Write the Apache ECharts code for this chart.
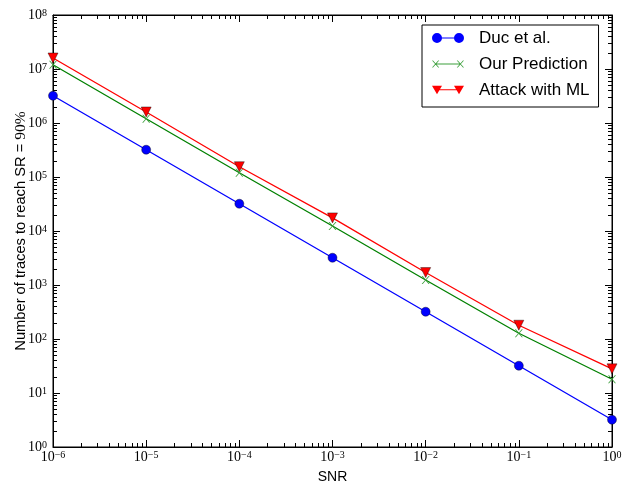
<!DOCTYPE html>
<html>
<head>
<meta charset="utf-8">
<script src="https://cdn.jsdelivr.net/npm/echarts@6/dist/echarts.min.js"></script>
<style>
  html, body { margin: 0; padding: 0; background: #fff; }
  #chart { width: 622px; height: 484px; }
</style>
</head>
<body>
<div id="chart"></div>
<script>
// data
var snr = [1e-6, 1e-5, 1e-4, 1e-3, 1e-2, 1e-1, 1];
var ducTraces = [3.2e6, 3.2e5, 3.2e4, 3.2e3, 3.2e2, 32, 3.2];
var predTraces = [1.2e7, 1.2e6, 1.2e5, 1.24e4, 1.24e3, 128, 18];
var mlTraces = [1.6e7, 1.6e6, 1.55e5, 1.75e4, 1.7e3, 180, 28];
var seriesNames = ["Duc et al.", "Our Prediction", "Attack with ML"];

// axis decades (exponents)
var xDecades = [-6, -5, -4, -3, -2, -1];
var yDecades = [0, 1, 2, 3, 4, 5, 6, 7];
var minorSteps = [2, 3, 4, 5, 6, 7, 8, 9];

var serif = "Liberation Serif";
var sans = "Liberation Sans";

// x marker, circle/line and triangle/line icons for the legend
var xMark = "path://M0.5,0 L1.5,0 L8,8 L7,8 Z M7,0 L8,0 L1.5,8 L0.5,8 Z";
var iconDuc = "path://M0,5A5,5,0,1,1,10,5A5,5,0,1,1,0,5Z M9,4.4L23,4.4L23,5.6L9,5.6Z M22,5A5,5,0,1,1,32,5A5,5,0,1,1,22,5Z";
var iconPred = "path://M0.5,1.5L1.5,1.5L7.5,8.5L6.5,8.5Z M6.5,1.5L7.5,1.5L1.5,8.5L0.5,8.5Z M4,4.4L28,4.4L28,5.6L4,5.6Z M24.5,1.5L25.5,1.5L31.5,8.5L30.5,8.5Z M30.5,1.5L31.5,1.5L25.5,8.5L24.5,8.5Z";
var iconMl = "path://M0,1L10,1L5,9.5Z M5,4.4L27,4.4L27,5.6L5,5.6Z M22,1L32,1L27,9.5Z";

function pairs(ys) {
  return snr.map(function (x, i) {
    return [x, ys[i]];
  });
}

// minor tick positions 2..9 x 10^e, kind 0 = x axis, 1 = y axis
var minorTicks = [];
xDecades.forEach(function (e) {
  minorSteps.forEach(function (k) {
    minorTicks.push([k * Math.pow(10, e), 100, 0]);
  });
});
yDecades.forEach(function (e) {
  minorSteps.forEach(function (k) {
    minorTicks.push([1e-3, k * Math.pow(10, e), 1]);
  });
});

function powLabel(value) {
  var e = Math.round(Math.log10(value));
  return "{b|10}{s|" + String(e).replace("-", "\u2212") + "}";
}

var tickRich = {
  b: { fontFamily: serif, fontSize: 14, lineHeight: 14, padding: [5, 0, 0, 0], verticalAlign: "bottom", color: "#000" },
  s: { fontFamily: serif, fontSize: 10, lineHeight: 10, verticalAlign: "top", color: "#000" },
};

function makeAxis(pos, min, max, labels) {
  return {
    type: "log",
    logBase: 10,
    position: pos,
    min: min,
    max: max,
    interval: 1,
    axisLine: { show: true, lineStyle: { color: "#000", width: 1 } },
    axisTick: { show: true, inside: true, length: 7, lineStyle: { color: "#000", width: 1 } },
    splitLine: { show: false },
    axisLabel: {
      show: labels,
      formatter: powLabel,
      rich: tickRich,
      margin: pos == "bottom" ? 3 : 6,
      showMinLabel: true,
      showMaxLabel: true,
    },
  };
}

// short inward ticks on all four sides of the plot
function renderMinor(params, api) {
  var cs = params.coordSys;
  var kind = api.value(2);
  var len = 4;
  var p = api.coord([api.value(0), api.value(1)]);
  var kids = [];
  if (kind == 0) {
    var x = Math.round(p[0]);
    kids.push({ type: "rect", shape: { x: x, y: cs.y + cs.height - len, width: 1, height: len }, style: { fill: "#000" } });
    kids.push({ type: "rect", shape: { x: x, y: cs.y, width: 1, height: len }, style: { fill: "#000" } });
  } else {
    var y = Math.round(p[1]);
    kids.push({ type: "rect", shape: { x: cs.x, y: y, width: len, height: 1 }, style: { fill: "#000" } });
    kids.push({ type: "rect", shape: { x: cs.x + cs.width - len, y: y, width: len, height: 1 }, style: { fill: "#000" } });
  }
  return { type: "group", children: kids };
}

var chart = echarts.init(document.getElementById("chart"), null, { renderer: "canvas" });

var xBottom = makeAxis("bottom", 1e-6, 1, true);
xBottom.name = "SNR";
xBottom.nameLocation = "middle";
xBottom.nameGap = 23;
xBottom.nameMoveOverlap = false;
xBottom.nameTextStyle = { fontFamily: sans, fontSize: 14, color: "#000" };

var yLeft = makeAxis("left", 1, 1e8, true);
yLeft.name = "Number of traces to reach SR = {m|90%}";
yLeft.nameLocation = "middle";
yLeft.nameGap = 24;
yLeft.nameMoveOverlap = false;
yLeft.nameTextStyle = {
  fontFamily: sans,
  fontSize: 14.7,
  color: "#000",
  rich: { m: { fontFamily: serif, fontSize: 15.5, color: "#000" } },
};

chart.setOption({
  animation: false,
  backgroundColor: "#fff",
  grid: {
    left: 53,
    right: 10,
    top: 15,
    bottom: 37,
    outerBoundsMode: "none",
    containLabel: false,
    show: true,
    borderColor: "#000",
    borderWidth: 1,
  },
  legend: {
    orient: "vertical",
    left: 422,
    top: 25,
    padding: [4, 9, 8, 10],
    itemWidth: 32,
    itemHeight: 10,
    itemGap: 8,
    borderColor: "#000",
    borderWidth: 1,
    backgroundColor: "#fff",
    itemStyle: { borderWidth: 0 },
    lineStyle: { width: 0, opacity: 0 },
    textStyle: { fontFamily: sans, fontSize: 17, lineHeight: 18, color: "#000", padding: [0, 0, 0, 10] },
    data: [
      { name: seriesNames[0], icon: iconDuc },
      { name: seriesNames[1], icon: iconPred },
      { name: seriesNames[2], icon: iconMl },
    ],
  },
  xAxis: [xBottom, makeAxis("top", 1e-6, 1, false)],
  yAxis: [yLeft, makeAxis("right", 1, 1e8, false)],
  series: [
    {
      type: "custom",
      name: "minor ticks",
      data: minorTicks,
      renderItem: renderMinor,
      silent: true,
    },
    {
      name: seriesNames[0],
      type: "line",
      data: pairs(ducTraces),
      symbol: "circle",
      symbolSize: 9,
      color: "#0000ff",
      lineStyle: { color: "#0000ff", width: 1.3 },
      itemStyle: { color: "#0000ff", borderColor: "#000", borderWidth: 0.4 },
      clip: false,
      z: 3,
    },
    {
      name: seriesNames[1],
      type: "line",
      data: pairs(predTraces),
      symbol: xMark,
      symbolSize: 8,
      color: "#008000",
      lineStyle: { color: "#008000", width: 1.3 },
      itemStyle: { color: "#3da03d" },
      clip: false,
      z: 4,
    },
    {
      name: seriesNames[2],
      type: "line",
      data: pairs(mlTraces),
      symbol: "triangle",
      symbolRotate: 180,
      symbolSize: 10,
      color: "#ff0000",
      lineStyle: { color: "#ff0000", width: 1.3 },
      itemStyle: { color: "#ff0000", borderColor: "#000", borderWidth: 0.4 },
      clip: false,
      z: 5,
    },
  ],
});
</script>
</body>
</html>
